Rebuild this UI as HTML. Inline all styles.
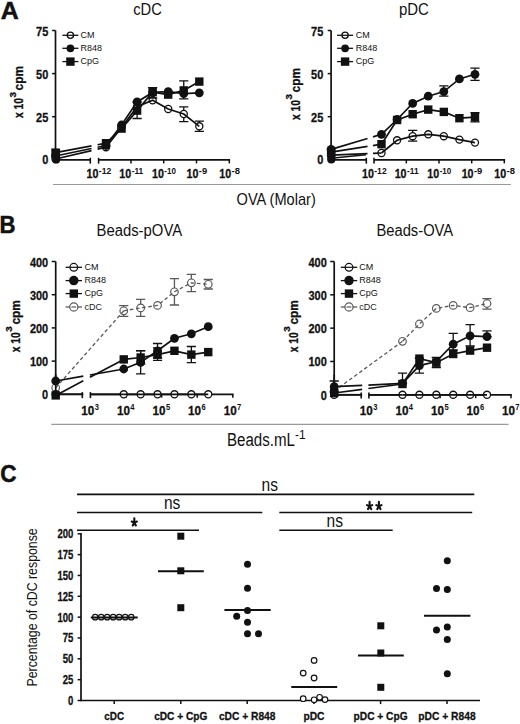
<!DOCTYPE html><html><head><meta charset="utf-8"><style>html,body{margin:0;padding:0;background:#fff;}svg{display:block;}</style></head><body>
<svg width="520" height="724" viewBox="0 0 520 724" font-family='"Liberation Sans", sans-serif' fill="#111" stroke="#111">
<rect x="0" y="0" width="520" height="724" fill="#fff" stroke="none"/>
<g stroke="none">
<text x="0.8" y="19.2" font-size="24.2" font-weight="bold" stroke="#111" stroke-width="0.5" textLength="18" lengthAdjust="spacingAndGlyphs">A</text>
<text x="-0.5" y="233.1" font-size="23.6" font-weight="bold" stroke="#111" stroke-width="0.5" textLength="16" lengthAdjust="spacingAndGlyphs">B</text>
<text x="0.2" y="482.3" font-size="23.8" font-weight="bold" stroke="#111" stroke-width="0.5" textLength="16.3" lengthAdjust="spacingAndGlyphs">C</text>
</g>
<line x1="55.5" y1="30.4" x2="55.5" y2="160.55" stroke-width="1.7"/>
<g stroke="none">
<text x="48.3" y="164.2" font-size="13.6" font-weight="bold" stroke="#111" stroke-width="0.3" text-anchor="end" textLength="6.1" lengthAdjust="spacingAndGlyphs">0</text>
<text x="48.3" y="121.8" font-size="13.6" font-weight="bold" stroke="#111" stroke-width="0.3" text-anchor="end" textLength="12.2" lengthAdjust="spacingAndGlyphs">25</text>
<text x="48.3" y="78.7" font-size="13.6" font-weight="bold" stroke="#111" stroke-width="0.3" text-anchor="end" textLength="12.2" lengthAdjust="spacingAndGlyphs">50</text>
<text x="48.3" y="35.6" font-size="13.6" font-weight="bold" stroke="#111" stroke-width="0.3" text-anchor="end" textLength="12.2" lengthAdjust="spacingAndGlyphs">75</text>
</g>
<line x1="52.1" y1="159.8" x2="55.5" y2="159.8" stroke-width="1.5"/>
<line x1="52.1" y1="116.7" x2="55.5" y2="116.7" stroke-width="1.5"/>
<line x1="52.1" y1="73.6" x2="55.5" y2="73.6" stroke-width="1.5"/>
<line x1="52.1" y1="30.5" x2="55.5" y2="30.5" stroke-width="1.5"/>
<line x1="55.5" y1="159.8" x2="90.3" y2="159.8" stroke-width="1.7"/>
<line x1="98.6" y1="159.8" x2="230.1" y2="159.8" stroke-width="1.7"/>
<line x1="90.3" y1="157.8" x2="90.3" y2="163.6" stroke-width="1.6"/>
<line x1="98.6" y1="157.8" x2="98.6" y2="163.6" stroke-width="1.6"/>
<line x1="131" y1="159.8" x2="131" y2="163.4" stroke-width="1.5"/>
<line x1="163.7" y1="159.8" x2="163.7" y2="163.4" stroke-width="1.5"/>
<line x1="196.5" y1="159.8" x2="196.5" y2="163.4" stroke-width="1.5"/>
<line x1="229.3" y1="159.8" x2="229.3" y2="163.4" stroke-width="1.5"/>
<g stroke="none">
<text x="86.55" y="178" font-size="12.2" font-weight="bold" stroke="#111" stroke-width="0.3" textLength="11.9" lengthAdjust="spacingAndGlyphs">10</text>
<text stroke="none" x="98.85" y="173.6" font-size="8.6" font-weight="bold" textLength="12.4" lengthAdjust="spacingAndGlyphs">-12</text>
<text x="119.35" y="178" font-size="12.2" font-weight="bold" stroke="#111" stroke-width="0.3" textLength="11.9" lengthAdjust="spacingAndGlyphs">10</text>
<text stroke="none" x="131.65" y="173.6" font-size="8.6" font-weight="bold" textLength="11.6" lengthAdjust="spacingAndGlyphs">-11</text>
<text x="152.05" y="178" font-size="12.2" font-weight="bold" stroke="#111" stroke-width="0.3" textLength="11.9" lengthAdjust="spacingAndGlyphs">10</text>
<text stroke="none" x="164.35" y="173.6" font-size="8.6" font-weight="bold" textLength="11.6" lengthAdjust="spacingAndGlyphs">-10</text>
<text x="186.45" y="178" font-size="12.2" font-weight="bold" stroke="#111" stroke-width="0.3" textLength="11.9" lengthAdjust="spacingAndGlyphs">10</text>
<text stroke="none" x="198.75" y="173.6" font-size="8.6" font-weight="bold" textLength="8.4" lengthAdjust="spacingAndGlyphs">-9</text>
<text x="219.25" y="178" font-size="12.2" font-weight="bold" stroke="#111" stroke-width="0.3" textLength="11.9" lengthAdjust="spacingAndGlyphs">10</text>
<text stroke="none" x="231.55" y="173.6" font-size="8.6" font-weight="bold" textLength="8.4" lengthAdjust="spacingAndGlyphs">-8</text>
<text stroke="none" x="133.2" y="15.1" font-size="16.6" textLength="28.6" lengthAdjust="spacingAndGlyphs">cDC</text>
</g>
<g stroke="none">
<text x="23.4" y="118" font-size="12.6" font-weight="bold" stroke="#111" stroke-width="0.3" textLength="20" lengthAdjust="spacingAndGlyphs" transform="rotate(-90 23.4 118)">x 10</text>
<text x="15.5" y="97.5" font-size="9.2" font-weight="bold" stroke="#111" stroke-width="0.3" textLength="5.5" lengthAdjust="spacingAndGlyphs" transform="rotate(-90 15.5 97.5)">3</text>
<text x="23.4" y="90.4" font-size="12.6" font-weight="bold" stroke="#111" stroke-width="0.3" textLength="24.4" lengthAdjust="spacingAndGlyphs" transform="rotate(-90 23.4 90.4)">cpm</text>
</g>
<path d="M183.75 106.8V121.6M179.15 106.8H188.35M179.15 121.6H188.35" stroke-width="1.3" fill="none"/>
<path d="M199.3 121.2V131.3M194.7 121.2H203.9M194.7 131.3H203.9" stroke-width="1.3" fill="none"/>
<circle cx="106" cy="147.2" r="3.55" fill="#fff" stroke="none"/>
<circle cx="121.55" cy="127.5" r="3.55" fill="#fff" stroke="none"/>
<circle cx="137.1" cy="106.8" r="3.55" fill="#fff" stroke="none"/>
<circle cx="152.65" cy="100.3" r="3.55" fill="#fff" stroke="none"/>
<circle cx="168.2" cy="109" r="3.55" fill="#fff" stroke="none"/>
<circle cx="183.75" cy="114" r="3.55" fill="#fff" stroke="none"/>
<circle cx="199.3" cy="126.3" r="3.55" fill="#fff" stroke="none"/>
<circle cx="55.5" cy="159" r="3.55" fill="#fff" stroke="none"/>
<line x1="55.5" y1="159" x2="91.5" y2="150.59" stroke-width="1.7"/>
<line x1="97.6" y1="149.16" x2="106" y2="147.2" stroke-width="1.7"/>
<polyline points="106,147.2 121.55,127.5 137.1,106.8 152.65,100.3 168.2,109 183.75,114 199.3,126.3" stroke-width="1.7" fill="none"/>
<circle cx="106" cy="147.2" r="3.55" fill="none" stroke-width="1.3"/>
<circle cx="121.55" cy="127.5" r="3.55" fill="none" stroke-width="1.3"/>
<circle cx="137.1" cy="106.8" r="3.55" fill="none" stroke-width="1.3"/>
<circle cx="152.65" cy="100.3" r="3.55" fill="none" stroke-width="1.3"/>
<circle cx="168.2" cy="109" r="3.55" fill="none" stroke-width="1.3"/>
<circle cx="183.75" cy="114" r="3.55" fill="none" stroke-width="1.3"/>
<circle cx="199.3" cy="126.3" r="3.55" fill="none" stroke-width="1.3"/>
<circle cx="55.5" cy="159" r="3.55" fill="none" stroke-width="1.3"/>
<line x1="55.5" y1="156" x2="91.5" y2="148.51" stroke-width="1.7"/>
<line x1="97.6" y1="147.25" x2="106" y2="145.5" stroke-width="1.7"/>
<polyline points="106,145.5 121.55,125 137.1,101.9 152.65,92.4 168.2,91.6 183.75,93.6 199.3,92.8" stroke-width="1.7" fill="none"/>
<circle cx="106" cy="145.5" r="4.4" fill="#111" stroke="none"/>
<circle cx="121.55" cy="125" r="4.4" fill="#111" stroke="none"/>
<circle cx="137.1" cy="101.9" r="4.4" fill="#111" stroke="none"/>
<circle cx="152.65" cy="92.4" r="4.4" fill="#111" stroke="none"/>
<circle cx="168.2" cy="91.6" r="4.4" fill="#111" stroke="none"/>
<circle cx="183.75" cy="93.6" r="4.4" fill="#111" stroke="none"/>
<circle cx="199.3" cy="92.8" r="4.4" fill="#111" stroke="none"/>
<circle cx="55.5" cy="156" r="4.4" fill="#111" stroke="none"/>
<path d="M137.1 102V118.5M132.5 102H141.7M132.5 118.5H141.7" stroke-width="1.3" fill="none"/>
<path d="M152.65 87.6V98M148.05 87.6H157.25M148.05 98H157.25" stroke-width="1.3" fill="none"/>
<path d="M183.75 80.8V98.8M179.15 80.8H188.35M179.15 98.8H188.35" stroke-width="1.3" fill="none"/>
<line x1="55.5" y1="152.6" x2="91.5" y2="145.9" stroke-width="1.7"/>
<line x1="97.6" y1="144.76" x2="106" y2="143.2" stroke-width="1.7"/>
<polyline points="106,143.2 121.55,128.6 137.1,110.6 152.65,92.2 168.2,94.6 183.75,90.4 199.3,81.6" stroke-width="1.7" fill="none"/>
<rect x="101.8" y="139" width="8.4" height="8.4" fill="#111" stroke="none"/>
<rect x="117.35" y="124.4" width="8.4" height="8.4" fill="#111" stroke="none"/>
<rect x="132.9" y="106.4" width="8.4" height="8.4" fill="#111" stroke="none"/>
<rect x="148.45" y="88" width="8.4" height="8.4" fill="#111" stroke="none"/>
<rect x="164" y="90.4" width="8.4" height="8.4" fill="#111" stroke="none"/>
<rect x="179.55" y="86.2" width="8.4" height="8.4" fill="#111" stroke="none"/>
<rect x="195.1" y="77.4" width="8.4" height="8.4" fill="#111" stroke="none"/>
<rect x="51.3" y="148.4" width="8.4" height="8.4" fill="#111" stroke="none"/>
<path d="M52.3 149H60.1V159.7A3.9 3.9 0 0 1 52.3 159.7Z" stroke="none"/>
<g>
<line x1="62.4" y1="35.3" x2="78.4" y2="35.3" stroke-width="1.3"/>
<circle cx="70.4" cy="35.3" r="3.17" fill="#fff" stroke="none"/>
<line x1="67.23" y1="35.3" x2="73.57" y2="35.3" stroke-width="1.2"/>
<circle cx="70.4" cy="35.3" r="3.12" fill="none" stroke-width="1.3"/>
<text stroke="none" x="80.6" y="38" font-size="9">CM</text>
<line x1="62.4" y1="48.3" x2="78.4" y2="48.3" stroke-width="1.3"/>
<circle cx="70.4" cy="48.3" r="3.87" fill="#111" stroke="none"/>
<text stroke="none" x="80.6" y="51" font-size="9">R848</text>
<line x1="62.4" y1="61.6" x2="78.4" y2="61.6" stroke-width="1.3"/>
<rect x="66.2" y="57.4" width="8.4" height="8.4" fill="#111" stroke="none"/>
<text stroke="none" x="80.6" y="64.3" font-size="9">CpG</text>
</g>
<line x1="331.1" y1="30.4" x2="331.1" y2="160.55" stroke-width="1.7"/>
<g stroke="none">
<text x="323.3" y="164.2" font-size="13.6" font-weight="bold" stroke="#111" stroke-width="0.3" text-anchor="end" textLength="6.1" lengthAdjust="spacingAndGlyphs">0</text>
<text x="323.3" y="121.8" font-size="13.6" font-weight="bold" stroke="#111" stroke-width="0.3" text-anchor="end" textLength="12.2" lengthAdjust="spacingAndGlyphs">25</text>
<text x="323.3" y="78.7" font-size="13.6" font-weight="bold" stroke="#111" stroke-width="0.3" text-anchor="end" textLength="12.2" lengthAdjust="spacingAndGlyphs">50</text>
<text x="323.3" y="35.6" font-size="13.6" font-weight="bold" stroke="#111" stroke-width="0.3" text-anchor="end" textLength="12.2" lengthAdjust="spacingAndGlyphs">75</text>
</g>
<line x1="327.7" y1="159.8" x2="331.1" y2="159.8" stroke-width="1.5"/>
<line x1="327.7" y1="116.7" x2="331.1" y2="116.7" stroke-width="1.5"/>
<line x1="327.7" y1="73.6" x2="331.1" y2="73.6" stroke-width="1.5"/>
<line x1="327.7" y1="30.5" x2="331.1" y2="30.5" stroke-width="1.5"/>
<line x1="331.1" y1="159.8" x2="366.3" y2="159.8" stroke-width="1.7"/>
<line x1="374" y1="159.8" x2="505.1" y2="159.8" stroke-width="1.7"/>
<line x1="366.3" y1="157.8" x2="366.3" y2="163.6" stroke-width="1.6"/>
<line x1="374" y1="157.8" x2="374" y2="163.6" stroke-width="1.6"/>
<line x1="406.3" y1="159.8" x2="406.3" y2="163.4" stroke-width="1.5"/>
<line x1="439" y1="159.8" x2="439" y2="163.4" stroke-width="1.5"/>
<line x1="471.7" y1="159.8" x2="471.7" y2="163.4" stroke-width="1.5"/>
<line x1="504.3" y1="159.8" x2="504.3" y2="163.4" stroke-width="1.5"/>
<g stroke="none">
<text x="361.95" y="178" font-size="12.2" font-weight="bold" stroke="#111" stroke-width="0.3" textLength="11.9" lengthAdjust="spacingAndGlyphs">10</text>
<text stroke="none" x="374.25" y="173.6" font-size="8.6" font-weight="bold" textLength="12.4" lengthAdjust="spacingAndGlyphs">-12</text>
<text x="394.65" y="178" font-size="12.2" font-weight="bold" stroke="#111" stroke-width="0.3" textLength="11.9" lengthAdjust="spacingAndGlyphs">10</text>
<text stroke="none" x="406.95" y="173.6" font-size="8.6" font-weight="bold" textLength="11.6" lengthAdjust="spacingAndGlyphs">-11</text>
<text x="427.35" y="178" font-size="12.2" font-weight="bold" stroke="#111" stroke-width="0.3" textLength="11.9" lengthAdjust="spacingAndGlyphs">10</text>
<text stroke="none" x="439.65" y="173.6" font-size="8.6" font-weight="bold" textLength="11.6" lengthAdjust="spacingAndGlyphs">-10</text>
<text x="461.65" y="178" font-size="12.2" font-weight="bold" stroke="#111" stroke-width="0.3" textLength="11.9" lengthAdjust="spacingAndGlyphs">10</text>
<text stroke="none" x="473.95" y="173.6" font-size="8.6" font-weight="bold" textLength="8.4" lengthAdjust="spacingAndGlyphs">-9</text>
<text x="494.25" y="178" font-size="12.2" font-weight="bold" stroke="#111" stroke-width="0.3" textLength="11.9" lengthAdjust="spacingAndGlyphs">10</text>
<text stroke="none" x="506.55" y="173.6" font-size="8.6" font-weight="bold" textLength="8.4" lengthAdjust="spacingAndGlyphs">-8</text>
<text stroke="none" x="398.9" y="15.1" font-size="16.6" textLength="29.9" lengthAdjust="spacingAndGlyphs">pDC</text>
</g>
<g stroke="none">
<text x="299.9" y="120" font-size="12.6" font-weight="bold" stroke="#111" stroke-width="0.3" textLength="20" lengthAdjust="spacingAndGlyphs" transform="rotate(-90 299.9 120)">x 10</text>
<text x="292" y="99.5" font-size="9.2" font-weight="bold" stroke="#111" stroke-width="0.3" textLength="5.5" lengthAdjust="spacingAndGlyphs" transform="rotate(-90 292 99.5)">3</text>
<text x="299.9" y="92.4" font-size="12.6" font-weight="bold" stroke="#111" stroke-width="0.3" textLength="24.4" lengthAdjust="spacingAndGlyphs" transform="rotate(-90 299.9 92.4)">cpm</text>
</g>
<line x1="331.1" y1="158.2" x2="366" y2="154.8" stroke-width="1.5"/>
<path d="M412.66 130.4V141.2M408.06 130.4H417.26M408.06 141.2H417.26" stroke-width="1.3" fill="none"/>
<circle cx="381.5" cy="153" r="3.55" fill="#fff" stroke="none"/>
<circle cx="397.08" cy="140.3" r="3.55" fill="#fff" stroke="none"/>
<circle cx="412.66" cy="136.2" r="3.55" fill="#fff" stroke="none"/>
<circle cx="428.24" cy="134.3" r="3.55" fill="#fff" stroke="none"/>
<circle cx="443.82" cy="136.2" r="3.55" fill="#fff" stroke="none"/>
<circle cx="459.4" cy="139.6" r="3.55" fill="#fff" stroke="none"/>
<circle cx="474.98" cy="142.6" r="3.55" fill="#fff" stroke="none"/>
<circle cx="331.1" cy="155.2" r="3.55" fill="#fff" stroke="none"/>
<line x1="331.1" y1="155.2" x2="367.5" y2="153.61" stroke-width="1.7"/>
<line x1="373" y1="153.37" x2="381.5" y2="153" stroke-width="1.7"/>
<polyline points="381.5,153 397.08,140.3 412.66,136.2 428.24,134.3 443.82,136.2 459.4,139.6 474.98,142.6" stroke-width="1.7" fill="none"/>
<circle cx="381.5" cy="153" r="3.55" fill="none" stroke-width="1.3"/>
<circle cx="397.08" cy="140.3" r="3.55" fill="none" stroke-width="1.3"/>
<circle cx="412.66" cy="136.2" r="3.55" fill="none" stroke-width="1.3"/>
<circle cx="428.24" cy="134.3" r="3.55" fill="none" stroke-width="1.3"/>
<circle cx="443.82" cy="136.2" r="3.55" fill="none" stroke-width="1.3"/>
<circle cx="459.4" cy="139.6" r="3.55" fill="none" stroke-width="1.3"/>
<circle cx="474.98" cy="142.6" r="3.55" fill="none" stroke-width="1.3"/>
<circle cx="331.1" cy="155.2" r="3.55" fill="none" stroke-width="1.3"/>
<path d="M443.82 85.8V96.2M439.22 85.8H448.42M439.22 96.2H448.42" stroke-width="1.3" fill="none"/>
<path d="M474.98 68.1V80.3M470.38 68.1H479.58M470.38 80.3H479.58" stroke-width="1.3" fill="none"/>
<line x1="331.1" y1="149.4" x2="367.5" y2="138.49" stroke-width="1.7"/>
<line x1="373" y1="136.85" x2="381.5" y2="134.3" stroke-width="1.7"/>
<polyline points="381.5,134.3 397.08,119.5 412.66,103.4 428.24,96.2 443.82,91.6 459.4,78.9 474.98,74.3" stroke-width="1.7" fill="none"/>
<circle cx="381.5" cy="134.3" r="4.4" fill="#111" stroke="none"/>
<circle cx="397.08" cy="119.5" r="4.4" fill="#111" stroke="none"/>
<circle cx="412.66" cy="103.4" r="4.4" fill="#111" stroke="none"/>
<circle cx="428.24" cy="96.2" r="4.4" fill="#111" stroke="none"/>
<circle cx="443.82" cy="91.6" r="4.4" fill="#111" stroke="none"/>
<circle cx="459.4" cy="78.9" r="4.4" fill="#111" stroke="none"/>
<circle cx="474.98" cy="74.3" r="4.4" fill="#111" stroke="none"/>
<circle cx="331.1" cy="149.4" r="4.4" fill="#111" stroke="none"/>
<path d="M474.98 112.6V121.8M470.38 112.6H479.58M470.38 121.8H479.58" stroke-width="1.3" fill="none"/>
<line x1="331.1" y1="152.2" x2="367.5" y2="146.42" stroke-width="1.7"/>
<line x1="373" y1="145.55" x2="381.5" y2="144.2" stroke-width="1.7"/>
<polyline points="381.5,144.2 397.08,120 412.66,114.2 428.24,109.6 443.82,111.9 459.4,118.2 474.98,117.2" stroke-width="1.7" fill="none"/>
<rect x="377.3" y="140" width="8.4" height="8.4" fill="#111" stroke="none"/>
<rect x="392.88" y="115.8" width="8.4" height="8.4" fill="#111" stroke="none"/>
<rect x="408.46" y="110" width="8.4" height="8.4" fill="#111" stroke="none"/>
<rect x="424.04" y="105.4" width="8.4" height="8.4" fill="#111" stroke="none"/>
<rect x="439.62" y="107.7" width="8.4" height="8.4" fill="#111" stroke="none"/>
<rect x="455.2" y="114" width="8.4" height="8.4" fill="#111" stroke="none"/>
<rect x="470.78" y="113" width="8.4" height="8.4" fill="#111" stroke="none"/>
<rect x="326.9" y="148" width="8.4" height="8.4" fill="#111" stroke="none"/>
<rect x="327.2" y="147.3" width="8.2" height="16.2" rx="4.1" stroke="none"/>
<g>
<line x1="337.1" y1="35.3" x2="353.1" y2="35.3" stroke-width="1.3"/>
<circle cx="345.1" cy="35.3" r="3.17" fill="#fff" stroke="none"/>
<line x1="341.93" y1="35.3" x2="348.27" y2="35.3" stroke-width="1.2"/>
<circle cx="345.1" cy="35.3" r="3.12" fill="none" stroke-width="1.3"/>
<text stroke="none" x="355.8" y="38" font-size="9">CM</text>
<line x1="337.1" y1="48.3" x2="353.1" y2="48.3" stroke-width="1.3"/>
<circle cx="345.1" cy="48.3" r="3.87" fill="#111" stroke="none"/>
<text stroke="none" x="355.8" y="51" font-size="9">R848</text>
<line x1="337.1" y1="61.6" x2="353.1" y2="61.6" stroke-width="1.3"/>
<rect x="340.9" y="57.4" width="8.4" height="8.4" fill="#111" stroke="none"/>
<text stroke="none" x="355.8" y="64.3" font-size="9">CpG</text>
</g>
<line x1="53" y1="184.5" x2="510.8" y2="184.5" stroke-width="1.2" stroke="#999"/>
<g stroke="none">
<text stroke="none" x="236.6" y="204.6" font-size="17" textLength="79.2" lengthAdjust="spacingAndGlyphs">OVA (Molar)</text>
</g>
<line x1="55.7" y1="261.5" x2="55.7" y2="395.05" stroke-width="1.7"/>
<g stroke="none">
<text x="48.2" y="399.3" font-size="13.6" font-weight="bold" stroke="#111" stroke-width="0.3" text-anchor="end" textLength="6.1" lengthAdjust="spacingAndGlyphs">0</text>
<text x="48.2" y="366.1" font-size="13.6" font-weight="bold" stroke="#111" stroke-width="0.3" text-anchor="end" textLength="18.3" lengthAdjust="spacingAndGlyphs">100</text>
<text x="48.2" y="332.9" font-size="13.6" font-weight="bold" stroke="#111" stroke-width="0.3" text-anchor="end" textLength="18.3" lengthAdjust="spacingAndGlyphs">200</text>
<text x="48.2" y="299.7" font-size="13.6" font-weight="bold" stroke="#111" stroke-width="0.3" text-anchor="end" textLength="18.3" lengthAdjust="spacingAndGlyphs">300</text>
<text x="48.2" y="266.5" font-size="13.6" font-weight="bold" stroke="#111" stroke-width="0.3" text-anchor="end" textLength="18.3" lengthAdjust="spacingAndGlyphs">400</text>
</g>
<line x1="51.7" y1="394.3" x2="55.7" y2="394.3" stroke-width="1.5"/>
<line x1="51.7" y1="361.1" x2="55.7" y2="361.1" stroke-width="1.5"/>
<line x1="51.7" y1="327.9" x2="55.7" y2="327.9" stroke-width="1.5"/>
<line x1="51.7" y1="294.7" x2="55.7" y2="294.7" stroke-width="1.5"/>
<line x1="51.7" y1="261.5" x2="55.7" y2="261.5" stroke-width="1.5"/>
<line x1="55.7" y1="394.3" x2="82.3" y2="394.3" stroke-width="1.7"/>
<line x1="90.4" y1="394.3" x2="233.6" y2="394.3" stroke-width="1.7"/>
<line x1="82.3" y1="392.1" x2="82.3" y2="398.1" stroke-width="1.6"/>
<line x1="90.4" y1="392.1" x2="90.4" y2="398.1" stroke-width="1.6"/>
<line x1="126" y1="394.3" x2="126" y2="397.7" stroke-width="1.5"/>
<line x1="161.6" y1="394.3" x2="161.6" y2="397.7" stroke-width="1.5"/>
<line x1="197.2" y1="394.3" x2="197.2" y2="397.7" stroke-width="1.5"/>
<line x1="232.8" y1="394.3" x2="232.8" y2="397.7" stroke-width="1.5"/>
<g stroke="none">
<text x="81.3" y="414.5" font-size="12.8" font-weight="bold" stroke="#111" stroke-width="0.3" textLength="13" lengthAdjust="spacingAndGlyphs">10</text>
<text stroke="none" x="94.7" y="409.9" font-size="8.6" font-weight="bold" textLength="4.2" lengthAdjust="spacingAndGlyphs">3</text>
<text x="116.9" y="414.5" font-size="12.8" font-weight="bold" stroke="#111" stroke-width="0.3" textLength="13" lengthAdjust="spacingAndGlyphs">10</text>
<text stroke="none" x="130.3" y="409.9" font-size="8.6" font-weight="bold" textLength="4.2" lengthAdjust="spacingAndGlyphs">4</text>
<text x="152.5" y="414.5" font-size="12.8" font-weight="bold" stroke="#111" stroke-width="0.3" textLength="13" lengthAdjust="spacingAndGlyphs">10</text>
<text stroke="none" x="165.9" y="409.9" font-size="8.6" font-weight="bold" textLength="4.2" lengthAdjust="spacingAndGlyphs">5</text>
<text x="188.1" y="414.5" font-size="12.8" font-weight="bold" stroke="#111" stroke-width="0.3" textLength="13" lengthAdjust="spacingAndGlyphs">10</text>
<text stroke="none" x="201.5" y="409.9" font-size="8.6" font-weight="bold" textLength="4.2" lengthAdjust="spacingAndGlyphs">6</text>
<text x="223.7" y="414.5" font-size="12.8" font-weight="bold" stroke="#111" stroke-width="0.3" textLength="13" lengthAdjust="spacingAndGlyphs">10</text>
<text stroke="none" x="237.1" y="409.9" font-size="8.6" font-weight="bold" textLength="4.2" lengthAdjust="spacingAndGlyphs">7</text>
<text stroke="none" x="96.5" y="235.8" font-size="15.6" textLength="85.6" lengthAdjust="spacingAndGlyphs">Beads-pOVA</text>
<text x="20" y="352.2" font-size="12.6" font-weight="bold" stroke="#111" stroke-width="0.3" textLength="20" lengthAdjust="spacingAndGlyphs" transform="rotate(-90 20 352.2)">x 10</text>
<text x="12.1" y="331.7" font-size="9.2" font-weight="bold" stroke="#111" stroke-width="0.3" textLength="5.5" lengthAdjust="spacingAndGlyphs" transform="rotate(-90 12.1 331.7)">3</text>
<text x="20" y="324.6" font-size="12.6" font-weight="bold" stroke="#111" stroke-width="0.3" textLength="24.4" lengthAdjust="spacingAndGlyphs" transform="rotate(-90 20 324.6)">cpm</text>
</g>
<path d="M123.75 305.6V316.3M119.15 305.6H128.35M119.15 316.3H128.35" stroke-width="1.3" stroke="#5a5a5a" fill="none"/>
<path d="M140.65 299.3V316.3M136.05 299.3H145.25M136.05 316.3H145.25" stroke-width="1.3" stroke="#5a5a5a" fill="none"/>
<path d="M174.45 278.6V305M169.85 278.6H179.05M169.85 305H179.05" stroke-width="1.3" stroke="#5a5a5a" fill="none"/>
<path d="M191.35 274.4V291.6M186.75 274.4H195.95M186.75 291.6H195.95" stroke-width="1.3" stroke="#5a5a5a" fill="none"/>
<path d="M208.25 279.5V289M203.65 279.5H212.85M203.65 289H212.85" stroke-width="1.3" stroke="#5a5a5a" fill="none"/>
<circle cx="123.75" cy="310.8" r="3.9" fill="#fff" stroke="none"/>
<circle cx="140.65" cy="307.9" r="3.9" fill="#fff" stroke="none"/>
<circle cx="157.55" cy="305.4" r="3.9" fill="#fff" stroke="none"/>
<circle cx="174.45" cy="291.8" r="3.9" fill="#fff" stroke="none"/>
<circle cx="191.35" cy="282.8" r="3.9" fill="#fff" stroke="none"/>
<circle cx="208.25" cy="284.3" r="3.9" fill="#fff" stroke="none"/>
<circle cx="55.7" cy="387.8" r="3.9" fill="#fff" stroke="none"/>
<line x1="55.7" y1="387.8" x2="123.75" y2="310.8" stroke-width="1.3" stroke="#5a5a5a" stroke-dasharray="3.6,2.6"/>
<polyline points="123.75,310.8 140.65,307.9 157.55,305.4 174.45,291.8 191.35,282.8 208.25,284.3" stroke-width="1.3" stroke="#5a5a5a" stroke-dasharray="3.6,2.6" fill="none"/>
<circle cx="123.75" cy="310.8" r="3.8" fill="none" stroke="#5a5a5a" stroke-width="1.2"/>
<circle cx="140.65" cy="307.9" r="3.8" fill="none" stroke="#5a5a5a" stroke-width="1.2"/>
<circle cx="157.55" cy="305.4" r="3.8" fill="none" stroke="#5a5a5a" stroke-width="1.2"/>
<circle cx="174.45" cy="291.8" r="3.8" fill="none" stroke="#5a5a5a" stroke-width="1.2"/>
<circle cx="191.35" cy="282.8" r="3.8" fill="none" stroke="#5a5a5a" stroke-width="1.2"/>
<circle cx="208.25" cy="284.3" r="3.8" fill="none" stroke="#5a5a5a" stroke-width="1.2"/>
<circle cx="55.7" cy="387.8" r="3.8" fill="none" stroke="#5a5a5a" stroke-width="1.2"/>
<circle cx="123.75" cy="394.3" r="3.55" fill="#fff" stroke="none"/>
<circle cx="140.65" cy="394.3" r="3.55" fill="#fff" stroke="none"/>
<circle cx="157.55" cy="394.3" r="3.55" fill="#fff" stroke="none"/>
<circle cx="174.45" cy="394.3" r="3.55" fill="#fff" stroke="none"/>
<circle cx="191.35" cy="394.3" r="3.55" fill="#fff" stroke="none"/>
<circle cx="208.25" cy="394.3" r="3.55" fill="#fff" stroke="none"/>
<circle cx="55.7" cy="394.3" r="3.55" fill="#fff" stroke="none"/>
<line x1="55.7" y1="394.3" x2="83.3" y2="394.3" stroke-width="1.7"/>
<line x1="89.9" y1="394.3" x2="123.75" y2="394.3" stroke-width="1.7"/>
<polyline points="123.75,394.3 140.65,394.3 157.55,394.3 174.45,394.3 191.35,394.3 208.25,394.3" stroke-width="1.7" fill="none"/>
<circle cx="123.75" cy="394.3" r="3.55" fill="none" stroke-width="1.3"/>
<circle cx="140.65" cy="394.3" r="3.55" fill="none" stroke-width="1.3"/>
<circle cx="157.55" cy="394.3" r="3.55" fill="none" stroke-width="1.3"/>
<circle cx="174.45" cy="394.3" r="3.55" fill="none" stroke-width="1.3"/>
<circle cx="191.35" cy="394.3" r="3.55" fill="none" stroke-width="1.3"/>
<circle cx="208.25" cy="394.3" r="3.55" fill="none" stroke-width="1.3"/>
<circle cx="55.7" cy="394.3" r="3.55" fill="none" stroke-width="1.3"/>
<path d="M140.65 350.8V373.8M136.05 350.8H145.25M136.05 373.8H145.25" stroke-width="1.3" fill="none"/>
<path d="M157.55 343.5V358M152.95 343.5H162.15M152.95 358H162.15" stroke-width="1.3" fill="none"/>
<line x1="55.7" y1="381" x2="83.3" y2="376.13" stroke-width="1.7"/>
<line x1="89.9" y1="374.97" x2="123.75" y2="369" stroke-width="1.7"/>
<polyline points="123.75,369 140.65,362.3 157.55,350.8 174.45,338.3 191.35,333.8 208.25,326.7" stroke-width="1.7" fill="none"/>
<circle cx="123.75" cy="369" r="4.4" fill="#111" stroke="none"/>
<circle cx="140.65" cy="362.3" r="4.4" fill="#111" stroke="none"/>
<circle cx="157.55" cy="350.8" r="4.4" fill="#111" stroke="none"/>
<circle cx="174.45" cy="338.3" r="4.4" fill="#111" stroke="none"/>
<circle cx="191.35" cy="333.8" r="4.4" fill="#111" stroke="none"/>
<circle cx="208.25" cy="326.7" r="4.4" fill="#111" stroke="none"/>
<circle cx="55.7" cy="381" r="4.4" fill="#111" stroke="none"/>
<path d="M140.65 350.6V364M136.05 350.6H145.25M136.05 364H145.25" stroke-width="1.3" fill="none"/>
<path d="M157.55 348V360.4M152.95 348H162.15M152.95 360.4H162.15" stroke-width="1.3" fill="none"/>
<path d="M191.35 346.5V362.7M186.75 346.5H195.95M186.75 362.7H195.95" stroke-width="1.3" fill="none"/>
<line x1="55.7" y1="395.4" x2="83.3" y2="380.8" stroke-width="1.7"/>
<line x1="89.9" y1="377.31" x2="123.75" y2="359.4" stroke-width="1.7"/>
<polyline points="123.75,359.4 140.65,357.5 157.55,354.6 174.45,350.8 191.35,354.6 208.25,352.1" stroke-width="1.7" fill="none"/>
<rect x="119.55" y="355.2" width="8.4" height="8.4" fill="#111" stroke="none"/>
<rect x="136.45" y="353.3" width="8.4" height="8.4" fill="#111" stroke="none"/>
<rect x="153.35" y="350.4" width="8.4" height="8.4" fill="#111" stroke="none"/>
<rect x="170.25" y="346.6" width="8.4" height="8.4" fill="#111" stroke="none"/>
<rect x="187.15" y="350.4" width="8.4" height="8.4" fill="#111" stroke="none"/>
<rect x="204.05" y="347.9" width="8.4" height="8.4" fill="#111" stroke="none"/>
<rect x="51.5" y="391.2" width="8.4" height="8.4" fill="#111" stroke="none"/>
<line x1="55.7" y1="374.3" x2="55.7" y2="395.05" stroke-width="1.7"/>
<line x1="65.6" y1="267.3" x2="82" y2="267.3" stroke-width="1.3"/>
<circle cx="73.8" cy="267.3" r="3.89" fill="#fff" stroke="none"/>
<line x1="69.91" y1="267.3" x2="77.69" y2="267.3" stroke-width="1.2"/>
<circle cx="73.8" cy="267.3" r="3.83" fill="none" stroke-width="1.3"/>
<text stroke="none" x="84.6" y="270" font-size="9">CM</text>
<line x1="65.6" y1="280.6" x2="82" y2="280.6" stroke-width="1.3"/>
<circle cx="73.8" cy="280.6" r="4.75" fill="#111" stroke="none"/>
<text stroke="none" x="84.6" y="283.3" font-size="9">R848</text>
<line x1="65.6" y1="293.6" x2="82" y2="293.6" stroke-width="1.3"/>
<rect x="69.6" y="289.4" width="8.4" height="8.4" fill="#111" stroke="none"/>
<text stroke="none" x="84.6" y="296.3" font-size="9">CpG</text>
<line x1="65.6" y1="307" x2="82" y2="307" stroke-width="1.3" stroke="#5a5a5a"/>
<circle cx="73.8" cy="307" r="3.89" fill="#fff" stroke="none"/>
<line x1="71.42" y1="307" x2="76.18" y2="307" stroke-width="1.2" stroke="#5a5a5a"/>
<circle cx="73.8" cy="307" r="4.1" fill="none" stroke="#5a5a5a" stroke-width="1.2"/>
<text stroke="none" x="84.6" y="309.7" font-size="9" fill="#222">cDC</text>
<line x1="334.2" y1="261.5" x2="334.2" y2="395.55" stroke-width="1.7"/>
<g stroke="none">
<text x="326.8" y="399.8" font-size="13.6" font-weight="bold" stroke="#111" stroke-width="0.3" text-anchor="end" textLength="6.1" lengthAdjust="spacingAndGlyphs">0</text>
<text x="326.8" y="366.48" font-size="13.6" font-weight="bold" stroke="#111" stroke-width="0.3" text-anchor="end" textLength="18.3" lengthAdjust="spacingAndGlyphs">100</text>
<text x="326.8" y="333.15" font-size="13.6" font-weight="bold" stroke="#111" stroke-width="0.3" text-anchor="end" textLength="18.3" lengthAdjust="spacingAndGlyphs">200</text>
<text x="326.8" y="299.82" font-size="13.6" font-weight="bold" stroke="#111" stroke-width="0.3" text-anchor="end" textLength="18.3" lengthAdjust="spacingAndGlyphs">300</text>
<text x="326.8" y="266.5" font-size="13.6" font-weight="bold" stroke="#111" stroke-width="0.3" text-anchor="end" textLength="18.3" lengthAdjust="spacingAndGlyphs">400</text>
</g>
<line x1="330.2" y1="394.8" x2="334.2" y2="394.8" stroke-width="1.5"/>
<line x1="330.2" y1="361.48" x2="334.2" y2="361.48" stroke-width="1.5"/>
<line x1="330.2" y1="328.15" x2="334.2" y2="328.15" stroke-width="1.5"/>
<line x1="330.2" y1="294.82" x2="334.2" y2="294.82" stroke-width="1.5"/>
<line x1="330.2" y1="261.5" x2="334.2" y2="261.5" stroke-width="1.5"/>
<line x1="334.2" y1="394.8" x2="361.2" y2="394.8" stroke-width="1.7"/>
<line x1="368.9" y1="394.8" x2="511.8" y2="394.8" stroke-width="1.7"/>
<line x1="361.2" y1="392.6" x2="361.2" y2="398.6" stroke-width="1.6"/>
<line x1="368.9" y1="392.6" x2="368.9" y2="398.6" stroke-width="1.6"/>
<line x1="404.5" y1="394.8" x2="404.5" y2="398.2" stroke-width="1.5"/>
<line x1="440.1" y1="394.8" x2="440.1" y2="398.2" stroke-width="1.5"/>
<line x1="475.7" y1="394.8" x2="475.7" y2="398.2" stroke-width="1.5"/>
<line x1="511" y1="394.8" x2="511" y2="398.2" stroke-width="1.5"/>
<g stroke="none">
<text x="359.8" y="414.5" font-size="12.8" font-weight="bold" stroke="#111" stroke-width="0.3" textLength="13" lengthAdjust="spacingAndGlyphs">10</text>
<text stroke="none" x="373.2" y="409.9" font-size="8.6" font-weight="bold" textLength="4.2" lengthAdjust="spacingAndGlyphs">3</text>
<text x="395.4" y="414.5" font-size="12.8" font-weight="bold" stroke="#111" stroke-width="0.3" textLength="13" lengthAdjust="spacingAndGlyphs">10</text>
<text stroke="none" x="408.8" y="409.9" font-size="8.6" font-weight="bold" textLength="4.2" lengthAdjust="spacingAndGlyphs">4</text>
<text x="431" y="414.5" font-size="12.8" font-weight="bold" stroke="#111" stroke-width="0.3" textLength="13" lengthAdjust="spacingAndGlyphs">10</text>
<text stroke="none" x="444.4" y="409.9" font-size="8.6" font-weight="bold" textLength="4.2" lengthAdjust="spacingAndGlyphs">5</text>
<text x="466.6" y="414.5" font-size="12.8" font-weight="bold" stroke="#111" stroke-width="0.3" textLength="13" lengthAdjust="spacingAndGlyphs">10</text>
<text stroke="none" x="480" y="409.9" font-size="8.6" font-weight="bold" textLength="4.2" lengthAdjust="spacingAndGlyphs">6</text>
<text x="501.9" y="414.5" font-size="12.8" font-weight="bold" stroke="#111" stroke-width="0.3" textLength="13" lengthAdjust="spacingAndGlyphs">10</text>
<text stroke="none" x="515.3" y="409.9" font-size="8.6" font-weight="bold" textLength="4.2" lengthAdjust="spacingAndGlyphs">7</text>
<text stroke="none" x="376.4" y="235.8" font-size="15.6" textLength="76.8" lengthAdjust="spacingAndGlyphs">Beads-OVA</text>
<text x="297.8" y="352.2" font-size="12.6" font-weight="bold" stroke="#111" stroke-width="0.3" textLength="20" lengthAdjust="spacingAndGlyphs" transform="rotate(-90 297.8 352.2)">x 10</text>
<text x="289.9" y="331.7" font-size="9.2" font-weight="bold" stroke="#111" stroke-width="0.3" textLength="5.5" lengthAdjust="spacingAndGlyphs" transform="rotate(-90 289.9 331.7)">3</text>
<text x="297.8" y="324.6" font-size="12.6" font-weight="bold" stroke="#111" stroke-width="0.3" textLength="24.4" lengthAdjust="spacingAndGlyphs" transform="rotate(-90 297.8 324.6)">cpm</text>
</g>
<path d="M487 298.7V309.2M482.4 298.7H491.6M482.4 309.2H491.6" stroke-width="1.3" stroke="#5a5a5a" fill="none"/>
<circle cx="402.5" cy="341.3" r="3.9" fill="#fff" stroke="none"/>
<circle cx="419.4" cy="324" r="3.9" fill="#fff" stroke="none"/>
<circle cx="436.3" cy="308.4" r="3.9" fill="#fff" stroke="none"/>
<circle cx="453.2" cy="305.4" r="3.9" fill="#fff" stroke="none"/>
<circle cx="470.1" cy="307.7" r="3.9" fill="#fff" stroke="none"/>
<circle cx="487" cy="303.5" r="3.9" fill="#fff" stroke="none"/>
<circle cx="334.2" cy="391" r="3.9" fill="#fff" stroke="none"/>
<line x1="334.2" y1="391" x2="402.5" y2="341.3" stroke-width="1.3" stroke="#5a5a5a" stroke-dasharray="3.6,2.6"/>
<polyline points="402.5,341.3 419.4,324 436.3,308.4 453.2,305.4 470.1,307.7 487,303.5" stroke-width="1.3" stroke="#5a5a5a" stroke-dasharray="3.6,2.6" fill="none"/>
<circle cx="402.5" cy="341.3" r="3.8" fill="none" stroke="#5a5a5a" stroke-width="1.2"/>
<circle cx="419.4" cy="324" r="3.8" fill="none" stroke="#5a5a5a" stroke-width="1.2"/>
<circle cx="436.3" cy="308.4" r="3.8" fill="none" stroke="#5a5a5a" stroke-width="1.2"/>
<circle cx="453.2" cy="305.4" r="3.8" fill="none" stroke="#5a5a5a" stroke-width="1.2"/>
<circle cx="470.1" cy="307.7" r="3.8" fill="none" stroke="#5a5a5a" stroke-width="1.2"/>
<circle cx="487" cy="303.5" r="3.8" fill="none" stroke="#5a5a5a" stroke-width="1.2"/>
<circle cx="334.2" cy="391" r="3.8" fill="none" stroke="#5a5a5a" stroke-width="1.2"/>
<circle cx="402.5" cy="394.8" r="3.55" fill="#fff" stroke="none"/>
<circle cx="419.4" cy="394.8" r="3.55" fill="#fff" stroke="none"/>
<circle cx="436.3" cy="394.8" r="3.55" fill="#fff" stroke="none"/>
<circle cx="453.2" cy="394.8" r="3.55" fill="#fff" stroke="none"/>
<circle cx="470.1" cy="394.8" r="3.55" fill="#fff" stroke="none"/>
<circle cx="487" cy="394.8" r="3.55" fill="#fff" stroke="none"/>
<circle cx="334.2" cy="394.8" r="3.55" fill="#fff" stroke="none"/>
<line x1="334.2" y1="394.8" x2="362.2" y2="394.8" stroke-width="1.7"/>
<line x1="368.4" y1="394.8" x2="402.5" y2="394.8" stroke-width="1.7"/>
<polyline points="402.5,394.8 419.4,394.8 436.3,394.8 453.2,394.8 470.1,394.8 487,394.8" stroke-width="1.7" fill="none"/>
<circle cx="402.5" cy="394.8" r="3.55" fill="none" stroke-width="1.3"/>
<circle cx="419.4" cy="394.8" r="3.55" fill="none" stroke-width="1.3"/>
<circle cx="436.3" cy="394.8" r="3.55" fill="none" stroke-width="1.3"/>
<circle cx="453.2" cy="394.8" r="3.55" fill="none" stroke-width="1.3"/>
<circle cx="470.1" cy="394.8" r="3.55" fill="none" stroke-width="1.3"/>
<circle cx="487" cy="394.8" r="3.55" fill="none" stroke-width="1.3"/>
<circle cx="334.2" cy="394.8" r="3.55" fill="none" stroke-width="1.3"/>
<path d="M402.5 373.1V383.4M397.9 373.1H407.1M397.9 383.4H407.1" stroke-width="1.3" fill="none"/>
<path d="M419.4 358V373.1M414.8 358H424M414.8 373.1H424" stroke-width="1.3" fill="none"/>
<path d="M453.2 333.3V350M448.6 333.3H457.8M448.6 350H457.8" stroke-width="1.3" fill="none"/>
<path d="M470.1 324.6V346M465.5 324.6H474.7M465.5 346H474.7" stroke-width="1.3" fill="none"/>
<path d="M487 330.8V336.7M482.4 330.8H491.6M482.4 336.7H491.6" stroke-width="1.3" fill="none"/>
<line x1="334.2" y1="386.7" x2="362.2" y2="385.35" stroke-width="1.7"/>
<line x1="368.4" y1="385.05" x2="402.5" y2="383.4" stroke-width="1.7"/>
<polyline points="402.5,383.4 419.4,365.6 436.3,361.5 453.2,344.2 470.1,335.8 487,336.7" stroke-width="1.7" fill="none"/>
<circle cx="402.5" cy="383.4" r="4.4" fill="#111" stroke="none"/>
<circle cx="419.4" cy="365.6" r="4.4" fill="#111" stroke="none"/>
<circle cx="436.3" cy="361.5" r="4.4" fill="#111" stroke="none"/>
<circle cx="453.2" cy="344.2" r="4.4" fill="#111" stroke="none"/>
<circle cx="470.1" cy="335.8" r="4.4" fill="#111" stroke="none"/>
<circle cx="487" cy="336.7" r="4.4" fill="#111" stroke="none"/>
<circle cx="334.2" cy="386.7" r="4.4" fill="#111" stroke="none"/>
<path d="M436.3 357.5V367.5M431.7 357.5H440.9M431.7 367.5H440.9" stroke-width="1.3" fill="none"/>
<line x1="334.2" y1="393" x2="362.2" y2="389.31" stroke-width="1.7"/>
<line x1="368.4" y1="388.49" x2="402.5" y2="384" stroke-width="1.7"/>
<polyline points="402.5,384 419.4,358.6 436.3,362.7 453.2,354 470.1,350.6 487,347.7" stroke-width="1.7" fill="none"/>
<rect x="398.3" y="379.8" width="8.4" height="8.4" fill="#111" stroke="none"/>
<rect x="415.2" y="354.4" width="8.4" height="8.4" fill="#111" stroke="none"/>
<rect x="432.1" y="358.5" width="8.4" height="8.4" fill="#111" stroke="none"/>
<rect x="449" y="349.8" width="8.4" height="8.4" fill="#111" stroke="none"/>
<rect x="465.9" y="346.4" width="8.4" height="8.4" fill="#111" stroke="none"/>
<rect x="482.8" y="343.5" width="8.4" height="8.4" fill="#111" stroke="none"/>
<rect x="330" y="388.8" width="8.4" height="8.4" fill="#111" stroke="none"/>
<line x1="334.2" y1="374.8" x2="334.2" y2="395.55" stroke-width="1.7"/>
<line x1="340.8" y1="267.3" x2="357.2" y2="267.3" stroke-width="1.3"/>
<circle cx="349" cy="267.3" r="3.89" fill="#fff" stroke="none"/>
<line x1="345.11" y1="267.3" x2="352.89" y2="267.3" stroke-width="1.2"/>
<circle cx="349" cy="267.3" r="3.83" fill="none" stroke-width="1.3"/>
<text stroke="none" x="359.2" y="270" font-size="9">CM</text>
<line x1="340.8" y1="280.6" x2="357.2" y2="280.6" stroke-width="1.3"/>
<circle cx="349" cy="280.6" r="4.75" fill="#111" stroke="none"/>
<text stroke="none" x="359.2" y="283.3" font-size="9">R848</text>
<line x1="340.8" y1="293.6" x2="357.2" y2="293.6" stroke-width="1.3"/>
<rect x="344.8" y="289.4" width="8.4" height="8.4" fill="#111" stroke="none"/>
<text stroke="none" x="359.2" y="296.3" font-size="9">CpG</text>
<line x1="340.8" y1="307" x2="357.2" y2="307" stroke-width="1.3" stroke="#5a5a5a"/>
<circle cx="349" cy="307" r="3.89" fill="#fff" stroke="none"/>
<line x1="346.62" y1="307" x2="351.38" y2="307" stroke-width="1.2" stroke="#5a5a5a"/>
<circle cx="349" cy="307" r="4.1" fill="none" stroke="#5a5a5a" stroke-width="1.2"/>
<text stroke="none" x="359.2" y="309.7" font-size="9" fill="#222">cDC</text>
<path d="M334.2 381V392M329.6 381H338.8M329.6 392H338.8" stroke-width="1.3" fill="none"/>
<line x1="51.3" y1="424.4" x2="508.5" y2="424.3" stroke-width="1.2" stroke="#999"/>
<g stroke="none">
<text stroke="none" x="227" y="446" font-size="18" textLength="68" lengthAdjust="spacingAndGlyphs">Beads.mL</text>
<text stroke="none" x="295" y="439.4" font-size="12.6" textLength="10.6" lengthAdjust="spacingAndGlyphs">-1</text>
</g>
<line x1="81" y1="533" x2="81" y2="701.25" stroke-width="1.7"/>
<line x1="81" y1="700.5" x2="480" y2="700.5" stroke-width="1.7"/>
<g stroke="none">
<text x="73.3" y="705" font-size="12.2" font-weight="bold" stroke="#111" stroke-width="0.3" text-anchor="end" textLength="5.3" lengthAdjust="spacingAndGlyphs">0</text>
<text x="73.3" y="684.16" font-size="12.2" font-weight="bold" stroke="#111" stroke-width="0.3" text-anchor="end" textLength="10.6" lengthAdjust="spacingAndGlyphs">25</text>
<text x="73.3" y="663.33" font-size="12.2" font-weight="bold" stroke="#111" stroke-width="0.3" text-anchor="end" textLength="10.6" lengthAdjust="spacingAndGlyphs">50</text>
<text x="73.3" y="642.49" font-size="12.2" font-weight="bold" stroke="#111" stroke-width="0.3" text-anchor="end" textLength="10.6" lengthAdjust="spacingAndGlyphs">75</text>
<text x="73.3" y="621.65" font-size="12.2" font-weight="bold" stroke="#111" stroke-width="0.3" text-anchor="end" textLength="15.9" lengthAdjust="spacingAndGlyphs">100</text>
<text x="73.3" y="600.81" font-size="12.2" font-weight="bold" stroke="#111" stroke-width="0.3" text-anchor="end" textLength="15.9" lengthAdjust="spacingAndGlyphs">125</text>
<text x="73.3" y="579.97" font-size="12.2" font-weight="bold" stroke="#111" stroke-width="0.3" text-anchor="end" textLength="15.9" lengthAdjust="spacingAndGlyphs">150</text>
<text x="73.3" y="559.14" font-size="12.2" font-weight="bold" stroke="#111" stroke-width="0.3" text-anchor="end" textLength="15.9" lengthAdjust="spacingAndGlyphs">175</text>
<text x="73.3" y="538.3" font-size="12.2" font-weight="bold" stroke="#111" stroke-width="0.3" text-anchor="end" textLength="15.9" lengthAdjust="spacingAndGlyphs">200</text>
</g>
<line x1="77.6" y1="700.5" x2="81" y2="700.5" stroke-width="1.5"/>
<line x1="77.6" y1="679.66" x2="81" y2="679.66" stroke-width="1.5"/>
<line x1="77.6" y1="658.83" x2="81" y2="658.83" stroke-width="1.5"/>
<line x1="77.6" y1="637.99" x2="81" y2="637.99" stroke-width="1.5"/>
<line x1="77.6" y1="617.15" x2="81" y2="617.15" stroke-width="1.5"/>
<line x1="77.6" y1="596.31" x2="81" y2="596.31" stroke-width="1.5"/>
<line x1="77.6" y1="575.47" x2="81" y2="575.47" stroke-width="1.5"/>
<line x1="77.6" y1="554.64" x2="81" y2="554.64" stroke-width="1.5"/>
<line x1="77.6" y1="533.8" x2="81" y2="533.8" stroke-width="1.5"/>
<line x1="114.2" y1="700.5" x2="114.2" y2="704.1" stroke-width="1.5"/>
<line x1="180.8" y1="700.5" x2="180.8" y2="704.1" stroke-width="1.5"/>
<line x1="247.2" y1="700.5" x2="247.2" y2="704.1" stroke-width="1.5"/>
<line x1="314" y1="700.5" x2="314" y2="704.1" stroke-width="1.5"/>
<line x1="380.6" y1="700.5" x2="380.6" y2="704.1" stroke-width="1.5"/>
<line x1="447" y1="700.5" x2="447" y2="704.1" stroke-width="1.5"/>
<g stroke="none">
<text x="114.2" y="719.6" font-size="11.8" font-weight="bold" stroke="#111" stroke-width="0.3" text-anchor="middle" textLength="19.8" lengthAdjust="spacingAndGlyphs">cDC</text>
<text x="180.8" y="719.6" font-size="11.8" font-weight="bold" stroke="#111" stroke-width="0.3" text-anchor="middle" textLength="53.3" lengthAdjust="spacingAndGlyphs">cDC + CpG</text>
<text x="247.2" y="719.6" font-size="11.8" font-weight="bold" stroke="#111" stroke-width="0.3" text-anchor="middle" textLength="56.6" lengthAdjust="spacingAndGlyphs">cDC + R848</text>
<text x="314" y="719.6" font-size="11.8" font-weight="bold" stroke="#111" stroke-width="0.3" text-anchor="middle" textLength="21.1" lengthAdjust="spacingAndGlyphs">pDC</text>
<text x="380.6" y="719.6" font-size="11.8" font-weight="bold" stroke="#111" stroke-width="0.3" text-anchor="middle" textLength="54.1" lengthAdjust="spacingAndGlyphs">pDC + CpG</text>
<text x="447" y="719.6" font-size="11.8" font-weight="bold" stroke="#111" stroke-width="0.3" text-anchor="middle" textLength="57.3" lengthAdjust="spacingAndGlyphs">pDC + R848</text>
<text stroke="none" x="36.8" y="607.4" font-size="15.2" text-anchor="middle" textLength="158.2" lengthAdjust="spacingAndGlyphs" transform="rotate(-90 36.8 607.4)">Percentage of cDC response</text>
</g>
<line x1="77" y1="494.4" x2="474.3" y2="494.4" stroke-width="1.6"/>
<line x1="77" y1="512.5" x2="262.3" y2="512.5" stroke-width="1.6"/>
<line x1="279.3" y1="512.5" x2="472.2" y2="512.5" stroke-width="1.6"/>
<line x1="77" y1="530.2" x2="199" y2="530.2" stroke-width="1.6"/>
<line x1="279.3" y1="530.2" x2="392.7" y2="530.2" stroke-width="1.6"/>
<g stroke="none">
<text stroke="none" x="261.6" y="491" font-size="18" textLength="16.4" lengthAdjust="spacingAndGlyphs">ns</text>
<text stroke="none" x="163.9" y="509.4" font-size="18" textLength="16.4" lengthAdjust="spacingAndGlyphs">ns</text>
<text stroke="none" x="326.6" y="527.4" font-size="18" textLength="16.4" lengthAdjust="spacingAndGlyphs">ns</text>
</g>
<path d="M369.6 506.2L369.6 501.9M369.6 506.2L367 505.1M369.6 506.2L372.2 505.1M369.6 506.2L368.05 509.1M369.6 506.2L371.15 509.1" stroke-width="2.1" stroke-linecap="round" fill="none"/>
<path d="M378.9 506.2L378.9 501.9M378.9 506.2L376.3 505.1M378.9 506.2L381.5 505.1M378.9 506.2L377.35 509.1M378.9 506.2L380.45 509.1" stroke-width="2.1" stroke-linecap="round" fill="none"/>
<path d="M134.3 522.6L134.3 518.3M134.3 522.6L131.7 521.5M134.3 522.6L136.9 521.5M134.3 522.6L132.75 525.5M134.3 522.6L135.85 525.5" stroke-width="2.1" stroke-linecap="round" fill="none"/>
<circle cx="95.2" cy="617.2" r="2.75" fill="none" stroke-width="1.2"/>
<circle cx="101.2" cy="617.2" r="2.75" fill="none" stroke-width="1.2"/>
<circle cx="107.2" cy="617.2" r="2.75" fill="none" stroke-width="1.2"/>
<circle cx="113.2" cy="617.2" r="2.75" fill="none" stroke-width="1.2"/>
<circle cx="119.2" cy="617.2" r="2.75" fill="none" stroke-width="1.2"/>
<circle cx="125.2" cy="617.2" r="2.75" fill="none" stroke-width="1.2"/>
<circle cx="131.2" cy="617.2" r="2.75" fill="none" stroke-width="1.2"/>
<line x1="90.8" y1="617.4" x2="137.7" y2="617.4" stroke-width="2"/>
<rect x="177.3" y="532.7" width="7" height="7" stroke="none"/>
<rect x="177.3" y="567.3" width="7" height="7" stroke="none"/>
<rect x="177.3" y="604.2" width="7" height="7" stroke="none"/>
<line x1="158" y1="571.2" x2="203.8" y2="571.2" stroke-width="2"/>
<circle cx="247.5" cy="564.2" r="3.5" stroke="none"/>
<circle cx="247.5" cy="588.3" r="3.5" stroke="none"/>
<circle cx="247.5" cy="610.5" r="3.5" stroke="none"/>
<circle cx="236.7" cy="616.3" r="3.5" stroke="none"/>
<circle cx="247.5" cy="622.2" r="3.5" stroke="none"/>
<circle cx="247.5" cy="633.8" r="3.5" stroke="none"/>
<circle cx="258.5" cy="633.8" r="3.5" stroke="none"/>
<line x1="224.4" y1="610.1" x2="270.7" y2="610.1" stroke-width="2"/>
<circle cx="314.1" cy="660.4" r="2.8" fill="#fff" stroke-width="1.2"/>
<circle cx="303.2" cy="673.1" r="2.8" fill="#fff" stroke-width="1.2"/>
<circle cx="314.1" cy="678" r="2.8" fill="#fff" stroke-width="1.2"/>
<circle cx="303.2" cy="698.7" r="2.8" fill="#fff" stroke-width="1.2"/>
<circle cx="314.1" cy="699.8" r="2.8" fill="#fff" stroke-width="1.2"/>
<circle cx="319.6" cy="697.3" r="2.8" fill="#fff" stroke-width="1.2"/>
<circle cx="325" cy="699.6" r="2.8" fill="#fff" stroke-width="1.2"/>
<line x1="291.3" y1="686.9" x2="337.2" y2="686.9" stroke-width="2"/>
<rect x="377.3" y="622.3" width="7" height="7" stroke="none"/>
<rect x="377.3" y="649.5" width="7" height="7" stroke="none"/>
<rect x="377.3" y="683.8" width="7" height="7" stroke="none"/>
<line x1="358" y1="655.4" x2="403.8" y2="655.4" stroke-width="2"/>
<circle cx="447.3" cy="560.8" r="3.5" stroke="none"/>
<circle cx="436.5" cy="588.5" r="3.5" stroke="none"/>
<circle cx="447.3" cy="589.6" r="3.5" stroke="none"/>
<circle cx="436.5" cy="630" r="3.5" stroke="none"/>
<circle cx="447.3" cy="627" r="3.5" stroke="none"/>
<circle cx="447.3" cy="639.6" r="3.5" stroke="none"/>
<circle cx="447.3" cy="673.8" r="3.5" stroke="none"/>
<line x1="424" y1="615.8" x2="470.4" y2="615.8" stroke-width="2"/>
</svg></body></html>
